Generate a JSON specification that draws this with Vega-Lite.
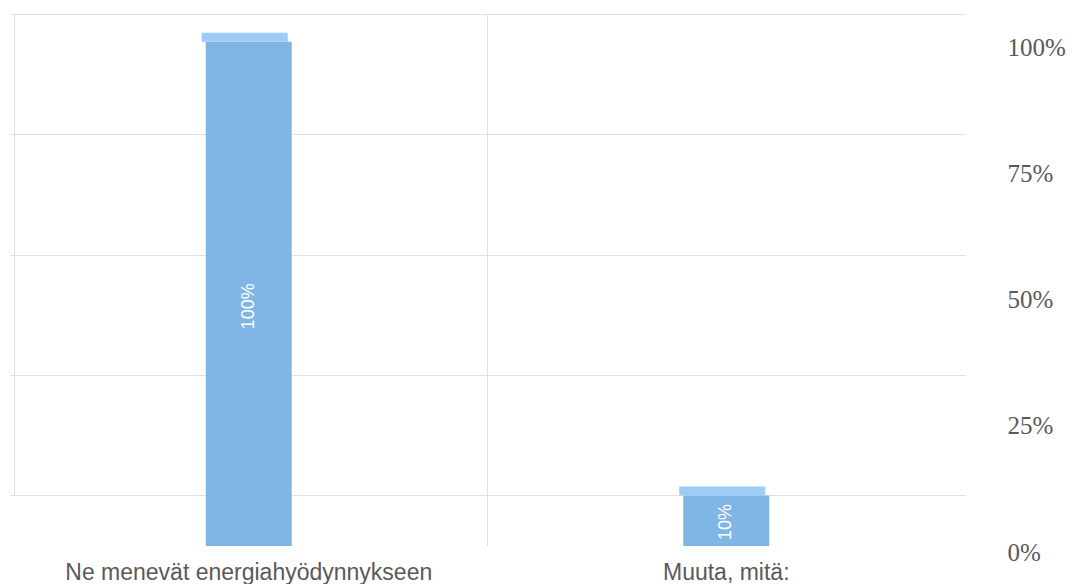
{
  "$schema": "https://vega.github.io/schema/vega-lite/v6.json",
  "width": 943,
  "height": 532,
  "autosize": {"type": "none"},
  "padding": {"left": 22, "top": 14, "right": 119, "bottom": 38},
  "background": "white",
  "config": {"view": {"stroke": null}},
  "data": {"values": [
    {"category": "Ne menevät energiahyödynnykseen", "value": 1.0},
    {"category": "Muuta, mitä:", "value": 0.1}
  ]},
  "encoding": {
    "x": {"field": "category", "type": "nominal", "sort": null,
      "scale": {"type": "band", "range": [-12, 943], "paddingInner": 0, "paddingOuter": 0},
      "axis": {"title": null, "domain": false, "ticks": false, "grid": false, "labelAngle": 0, "labelLimit": 0,
        "labelFont": "Liberation Sans", "labelFontSize": 23, "labelColor": "#595959", "labelPadding": 15}}
  },
  "layer": [
    {
      "mark": {"type": "point", "opacity": 0},
      "encoding": {
        "y": {"field": "value", "type": "quantitative",
          "scale": {"domain": [0, 1], "range": [481, 0]},
          "axis": {"orient": "left", "title": null, "labels": false, "ticks": false, "offset": 8,
            "values": [0, 0.25, 0.5, 0.75, 1], "grid": true, "gridColor": "#E0E0E0",
            "domain": true, "domainColor": "#E0E0E0"}}
      }
    },
    {
      "transform": [{"filter": "datum.category == 'Ne menevät energiahyödynnykseen'"}],
      "mark": {"type": "rule", "color": "#E0E0E0", "strokeWidth": 1},
      "encoding": {
        "x": {"field": "category", "type": "nominal", "bandPosition": 1}
      }
    },
    {
      "mark": {"type": "bar", "width": 86, "color": "#7FB6E5"},
      "encoding": {
        "y": {"field": "value", "type": "quantitative",
          "scale": {"domain": [0, 1.055]},
          "axis": {"orient": "right", "title": null, "format": ".0%", "values": [0, 0.25, 0.5, 0.75, 1],
            "grid": false, "ticks": false, "domain": false, "labelAlign": "left", "labelPadding": 42,
            "labelOffset": 6, "labelFont": "Liberation Serif", "labelFontSize": 25, "labelColor": "#595959"}}
      }
    },
    {
      "mark": {"type": "tick", "orient": "horizontal", "thickness": 9, "size": 86, "xOffset": -4, "yOffset": -4.5, "color": "#9DCCF6", "opacity": 1},
      "encoding": {
        "y": {"field": "value", "type": "quantitative", "scale": {"domain": [0, 1.055]}, "axis": null}
      }
    },
    {
      "mark": {"type": "text", "angle": 270, "color": "white", "font": "Liberation Sans", "fontSize": 18, "align": "center", "baseline": "middle"},
      "encoding": {
        "y": {"field": "value", "type": "quantitative", "scale": {"domain": [0, 2.22]}, "axis": null},
        "text": {"field": "value", "type": "quantitative", "format": ".0%"}
      }
    }
  ],
  "resolve": {"scale": {"y": "independent"}}
}
